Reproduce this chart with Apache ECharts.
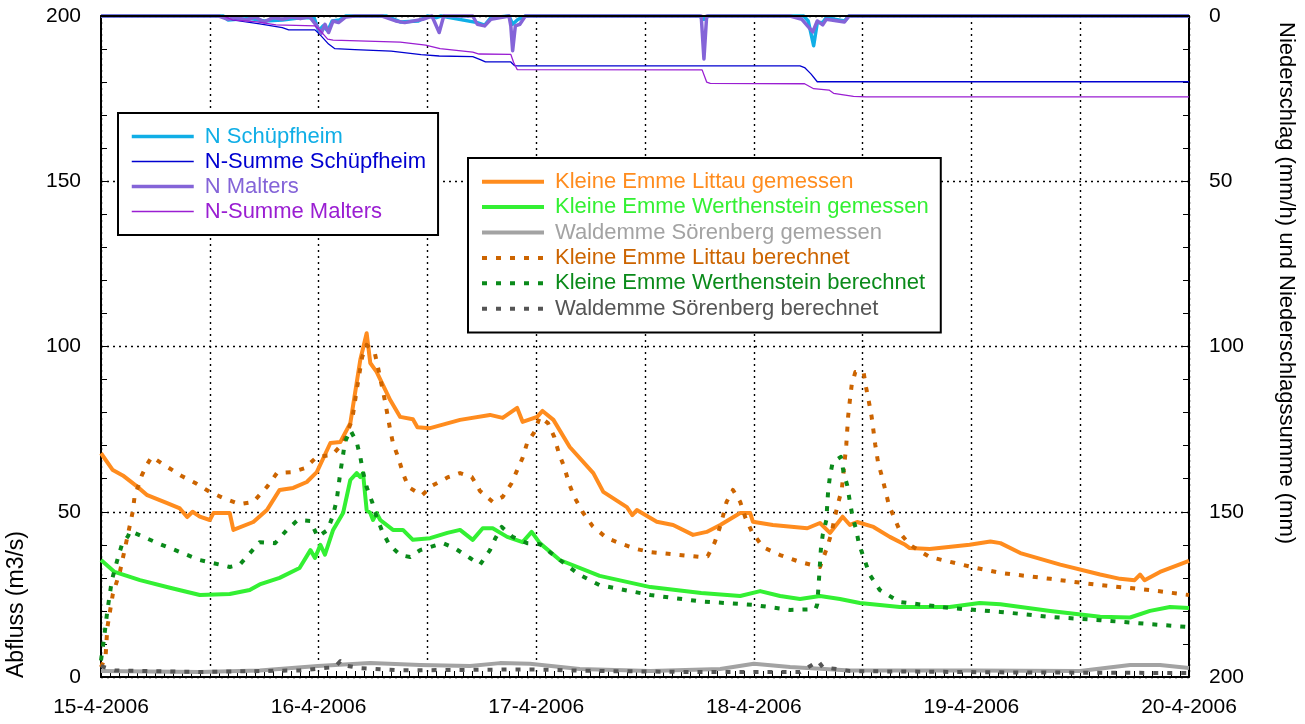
<!DOCTYPE html>
<html><head><meta charset="utf-8">
<script src="https://cdn.jsdelivr.net/npm/echarts@6/dist/echarts.min.js"></script>
<style>html,body{margin:0;padding:0;background:#fff}#c{width:1305px;height:724px}</style>
</head><body><div id="c"></div>
<script>
// x values are hours since 15-4-2006 00:00
const dayLabels = ['15-4-2006','16-4-2006','17-4-2006','18-4-2006','19-4-2006','20-4-2006'];

const littauMeasured = [[0,67.7],[1.3,62.6],[2.4,61],[4.0,57.6],[5.1,55],[7.3,52.6],[8.7,51],[9.5,48.4],[10.1,50],[10.9,48.5],[12.0,47.5],[12.4,49.6],[14.2,49.6],[14.6,44.5],[16.8,46.9],[18.3,50.5],[19.7,56.6],[21.2,57.2],[22.7,59],[23.8,62],[25.3,70.8],[26.4,71.1],[27.5,76.8],[28.6,96],[29.3,104],[29.7,95],[30.4,92.3],[31.9,83.8],[33.0,78.7],[34.4,78],[34.9,75.6],[36.3,75.3],[39.6,77.8],[42.9,79.3],[44.3,78.4],[45.9,81.4],[46.5,77.2],[48.1,78.7],[48.7,80.5],[49.9,77.8],[51.7,69.6],[54.3,61.7],[55.4,56],[58.0,51.4],[58.6,49],[59.1,50.5],[61.3,47],[63.1,46],[65.3,43],[66.8,43.9],[68.3,46],[70.5,49.6],[71.6,49.6],[71.9,47],[74.1,46],[77.9,45],[79.3,46.6],[80.4,43.6],[81.8,48.5],[82.6,46],[83.4,46.9],[85.2,45.4],[87.0,42.4],[88.7,40],[89.2,39],[91.4,38.7],[95.8,40],[98.1,41],[99.2,40.5],[101.4,37.5],[105.8,34],[110.2,31],[112.4,29.7],[114.0,29.3],[114.6,31],[115.1,29.3],[116.8,31.8],[120,35.1]];

const werthensteinMeasured = [[0,35.4],[1.5,31.8],[4.3,29.3],[7.6,27],[10.9,24.8],[14.2,25.1],[16.4,26.3],[17.5,28],[19.7,30],[21.9,33],[23.1,38.4],[23.6,36],[24.2,40],[24.7,37],[25.6,44.5],[26.7,49.6],[27.5,59.6],[28.2,61.7],[28.6,60.5],[28.9,61.7],[29.3,50.5],[29.7,49.6],[30.0,47.5],[30.4,49.6],[30.8,47.5],[32.2,44.5],[33.3,44.5],[34.4,41.5],[36.3,42],[38.2,43.6],[39.6,44.5],[41.0,41.5],[42.1,45],[43.2,45],[44.8,42.4],[46.5,40.8],[47.5,43.9],[48.4,40.5],[50.6,35.4],[55.0,30.6],[60.6,27.2],[66.2,25.4],[70.5,24.5],[72.7,26],[74.9,24.5],[77.1,23.6],[79.3,24.5],[81.5,23.6],[83.7,22.4],[88.1,21.2],[93.6,21.2],[96.9,22.4],[99.2,22],[104.7,20],[110.2,18.2],[113.5,18],[115.7,20],[117.9,21.2],[120,20.9]];

const soerenbergMeasured = [[0,1.8],[10.9,1.5],[17.5,2],[23.9,3.3],[29.7,4.2],[35.2,3.6],[40.7,3.3],[44.0,4.2],[47.3,4],[52.8,2.4],[60.6,1.8],[68.3,2.4],[72.0,4],[76.0,3],[82.6,2],[96.0,2],[108.0,1.8],[113.5,3.6],[116.8,3.6],[120,2.7]];

const littauComputed = [[0,3],[0.5,6],[0.7,15],[1.3,25],[2.1,32],[2.6,38.4],[3.5,50],[3.7,54.5],[4.5,61],[5.1,64.4],[5.6,66.6],[7.3,63.6],[8.9,60.8],[10.4,58.7],[12.0,56],[13.7,53.9],[15.3,52.3],[16.8,53],[18.3,57.5],[19.4,61.7],[21.1,62],[22.5,63.2],[23.8,66.6],[25.5,67.2],[26.7,70.8],[27.7,77.8],[28.2,86.8],[28.8,96.8],[29.3,100.5],[30.2,98],[30.6,93],[31.3,83.8],[31.6,79.3],[31.9,74.7],[32.2,70.8],[32.8,66.3],[33.3,61.7],[33.9,57.5],[35.4,55],[36.6,58],[38.3,60.5],[39.6,61.7],[40.9,60.5],[41.8,56.3],[43.2,53],[44.3,54.5],[45.3,58.7],[45.9,62.6],[46.5,66.3],[47.0,70.8],[47.8,74.1],[48.4,78.7],[49.3,76.8],[50.0,72.6],[50.5,67.7],[51.1,63.5],[51.6,58.7],[52.2,54.5],[53.1,50],[54.2,45.7],[55.8,42],[57.5,40.2],[59.1,38.7],[60.6,37.8],[66.1,36.3],[66.9,36.5],[67.7,40.8],[68.2,44.8],[68.6,48.7],[69.0,53],[69.7,56.6],[70.5,53],[71.1,48],[71.8,43.9],[73.0,39.3],[74.9,36.9],[77.1,34.8],[79.3,33.3],[80.1,39.3],[80.6,43.9],[80.9,48],[81.3,52.6],[81.7,56.6],[81.9,62],[82.2,70.2],[82.4,78.7],[82.6,83.8],[82.8,88.4],[83.2,92.3],[84.1,92.3],[84.4,87.4],[84.7,83.2],[85.0,78.7],[85.4,70.2],[85.7,65],[86.1,61],[86.5,56.6],[86.9,52],[87.6,47.5],[88.3,43],[89.2,40],[91.4,36.3],[96.0,33.3],[99.2,31.5],[104.7,29.7],[110.2,27.8],[115.7,26.3],[120,24.8]];

const werthensteinComputed = [[0,5],[0.3,11],[0.7,20],[1.2,29.3],[1.8,35.4],[2.3,40],[3.0,42.7],[3.2,44.2],[5.0,42],[6.5,40.2],[7.9,38.7],[10.9,35.4],[14.2,33.3],[15.3,34],[17.5,40.8],[19.2,40.5],[20.5,44.5],[21.7,47.5],[23.1,47.2],[23.9,42.4],[25.0,44.5],[25.6,49],[26.0,53.6],[26.4,62],[26.7,67.2],[26.9,71.1],[27.5,74.7],[28.2,71.1],[28.6,66.6],[28.9,62],[29.3,57.5],[29.9,53],[30.4,48.4],[31.0,44.2],[31.8,40],[33.0,36.9],[34.1,36.3],[35.2,38.4],[37.7,40.5],[39.0,39],[40.7,36],[41.8,34],[42.9,38.4],[43.5,42],[44.2,45.4],[45.4,42.4],[47.0,40.5],[48.4,40.2],[50.6,35.4],[52.8,30.9],[55.0,27.8],[60.6,24.8],[66.1,22.9],[72.0,21.8],[76.0,20.3],[78.8,20.5],[79.0,22],[79.2,30],[79.4,38.7],[79.6,43],[80.0,47.5],[80.1,52],[80.2,56.3],[80.4,60.8],[80.7,65],[81.6,66.6],[81.9,62],[82.3,58],[82.6,53],[82.9,48.4],[83.3,44.5],[83.6,40.2],[84.8,30.9],[85.9,26.3],[88.1,22.7],[93.6,20.9],[99.2,19.7],[104.7,18.2],[110.2,17.2],[115.7,16],[120,15.1]];

const soerenbergComputed = [[0,3.3],[1.5,2],[10.9,1.5],[21.9,2],[25.8,3],[26.4,4.8],[26.9,3.5],[28.6,2.7],[33.0,2],[47.3,2.3],[55.0,1.8],[66.1,1.5],[77.1,1.5],[79.1,4.8],[79.6,3],[82.6,1.8],[99.2,1.4],[120,1.2]];

// precipitation (mm/h) and cumulative precipitation (mm), right axis
const rainSchuepfheim = [[0,0],[13.5,0],[14,1.2],[15,1],[16.5,0.8],[18,1.5],[20,1.2],[22,0.5],[23.5,0.5],[24,4.5],[24.5,3],[25,4.5],[25.5,1.5],[26.3,1.2],[27,0],[31.5,0],[33,1.8],[35,1.5],[36,0],[37,0.5],[37.5,0],[41.5,2],[42.3,2.8],[43,0.5],[45,0],[45.4,2.5],[46,1],[46.8,0],[66,0],[66.5,1],[67,0],[77.5,0],[78,1.5],[78.6,9],[79,2],[79.6,2],[80,0.5],[82,1.5],[82.5,0],[120,0]];
const sumSchuepfheim = [[0,0],[13.5,0],[14.5,1.2],[17.5,2.4],[20,3.5],[20.7,4.2],[23.6,4.2],[24.1,5.5],[25.1,8.5],[25.8,9.9],[28,10.2],[32,10.6],[35.3,11.7],[37.3,12.1],[41,12.3],[41.9,13.3],[42.4,13.9],[45.2,13.9],[45.6,15],[46,15.1],[77.1,15.1],[77.6,15.6],[78.3,17.5],[79,19.9],[120,19.9]];
const rainMalters = [[0,0],[13,0],[14,1],[15,0.5],[16,1.2],[17,0.3],[18,1.8],[19,0.5],[20,1],[21,0.3],[22,0.8],[23,0.2],[23.8,3],[24.3,5.2],[24.7,2.5],[25.1,5],[25.6,1.5],[26.2,2],[27,0.3],[28,0],[31,0],[32.5,1.5],[33.5,2],[35.5,1],[36.5,0],[37.3,5],[37.8,0],[41,0],[41.5,2.5],[42.3,3],[43,1],[45,0],[45.2,3],[45.4,10.5],[45.7,3],[46.2,2.5],[46.8,0],[66.2,0],[66.5,13],[66.8,0],[76,0],[77.3,1],[78.5,4.8],[79,1.5],[79.6,2.7],[80,1],[82,1.8],[82.5,0],[120,0]];
const sumMalters = [[0,0],[13.5,0],[14.5,1.2],[17.2,1.8],[19.3,2.7],[23.6,3.0],[24.2,4.5],[25,7.0],[25.6,7.3],[33,7.9],[35.8,8.8],[37.4,9.9],[41,10.9],[41.7,11.5],[45.2,11.6],[45.5,14],[45.9,16.2],[66.3,16.3],[66.8,20.0],[67.2,20.4],[77.6,20.5],[78.6,22.0],[80.3,22.4],[80.8,23.4],[83,24.3],[84.4,24.5],[120,24.5]];

const FONT = 'Liberation Sans, Arial, sans-serif';
const C = {
  littauM:'#ff8c1e', werthM:'#33f033', soerM:'#a3a3a3',
  littauC:'#cc6400', werthC:'#0a8a1a', soerC:'#555555',
  rainS:'#10aee6', sumS:'#0000d0', rainM:'#8464d8', sumM:'#9a1ed2'
};
const DASH = [5, 9];
const GRID = {left:101, right:116, top:16, bottom:47};
const PLOT_W = 1305 - GRID.left - GRID.right;
const PLOT_H = 724 - GRID.top - GRID.bottom;

function line(name, data, color, width, dash, yi, extra) {
  return Object.assign({
    name, type:'line', data, yAxisIndex: yi, xAxisIndex:0,
    symbol:'none', showSymbol:false, animation:false, silent:true,
    lineStyle:{color, width, type: dash || 'solid', cap:'butt', join:'round'},
    itemStyle:{color}
  }, extra || {});
}
function legItem(name, color, width) {
  return {name, textStyle:{color}, itemStyle:{opacity:0}, lineStyle:{width}};
}

const chart = echarts.init(document.getElementById('c'), null, {renderer:'canvas'});
const lbl = {color:'#000', fontSize:21, fontFamily:FONT, margin:20};
// helper axes that only draw small ticks pointing into the plot
const tickOnly = {
  axisLine:{show:false, onZero:false}, axisLabel:{show:false}, splitLine:{show:false},
  axisTick:{show:true, inside:false, length:6, lineStyle:{color:'#000', width:1}}
};
chart.setOption({
  animation:false,
  textStyle:{fontFamily:FONT},
  grid:Object.assign({containLabel:false}, GRID),
  xAxis:[{
    type:'value', min:0, max:120, interval:12, position:'bottom',
    axisLine:{show:true, onZero:false, lineStyle:{color:'#000', width:2}},
    axisTick:{show:false},
    splitLine:{show:true, lineStyle:{color:'#000', width:1.4, type:[2,4]}},
    axisLabel:Object.assign({showMinLabel:true, showMaxLabel:true,
      formatter:function(v){ return (v % 24 === 0) ? dayLabels[v/24] : ''; }}, lbl)
  },{
    type:'value', min:0, max:120, position:'top', z:5,
    axisLine:{show:true, onZero:false, lineStyle:{color:'#000', width:2}},
    axisTick:{show:false}, axisLabel:{show:false}, splitLine:{show:false}
  }, Object.assign({
    type:'value', min:0, max:120, interval:1, position:'top', offset:-PLOT_H
  }, tickOnly)],
  yAxis:[{
    type:'value', min:0, max:200, interval:50, position:'left',
    axisLine:{show:true, onZero:false, lineStyle:{color:'#000', width:2}},
    axisTick:{show:false},
    splitLine:{show:true, lineStyle:{color:'#000', width:1.4, type:[2,4]}},
    axisLabel:lbl
  },{
    type:'value', min:0, max:200, interval:50, position:'right', inverse:true,
    axisLine:{show:true, onZero:false, lineStyle:{color:'#000', width:2}},
    axisTick:{show:false}, splitLine:{show:false},
    axisLabel:lbl
  }, Object.assign({type:'value', min:0, max:200, interval:10, position:'right', offset:-PLOT_W}, tickOnly),
     Object.assign({type:'value', min:0, max:200, interval:10, position:'left', offset:-PLOT_W}, tickOnly)],
  legend:[{
    orient:'vertical', left:118, top:113, padding:[11,12,11,12],
    borderColor:'#000', borderWidth:2, backgroundColor:'#fff',
    itemWidth:62, itemHeight:14, itemGap:0, selectedMode:false,
    textStyle:{fontSize:22, fontFamily:FONT, lineHeight:25, padding:[0,0,0,6]},
    data:[
      legItem('N Schüpfheim', C.rainS, 3.5),
      legItem('N-Summe Schüpfheim', C.sumS, 1.3),
      legItem('N Malters', C.rainM, 3.5),
      legItem('N-Summe Malters', C.sumM, 1.3)
    ]
  },{
    orient:'vertical', left:468, top:158, padding:[11,12,11,12],
    borderColor:'#000', borderWidth:2, backgroundColor:'#fff',
    itemWidth:62, itemHeight:14, itemGap:0, selectedMode:false,
    textStyle:{fontSize:22, fontFamily:FONT, lineHeight:25.4, padding:[0,0,0,6]},
    data:[
      legItem('Kleine Emme Littau gemessen', C.littauM, 4),
      legItem('Kleine Emme Werthenstein gemessen', C.werthM, 4),
      legItem('Waldemme Sörenberg gemessen', C.soerM, 4),
      legItem('Kleine Emme Littau berechnet', C.littauC, 4),
      legItem('Kleine Emme Werthenstein berechnet', C.werthC, 4),
      legItem('Waldemme Sörenberg berechnet', C.soerC, 4)
    ]
  }],
  graphic:[
    {type:'text', x:17, y:678, rotation:Math.PI/2, silent:true,
     style:{text:'Abfluss (m3/s)', fontSize:23, fontFamily:FONT, fill:'#000', align:'left', verticalAlign:'middle', textAlign:'left', textVerticalAlign:'middle'}},
    {type:'text', x:1286, y:22, rotation:-Math.PI/2, silent:true,
     style:{text:'Niederschlag (mm/h) und Niederschlagssumme (mm)', fontSize:22, fontFamily:FONT, fill:'#000', align:'left', verticalAlign:'middle', textAlign:'left', textVerticalAlign:'middle'}}
  ],
  series:[
    line('Kleine Emme Littau gemessen', littauMeasured, C.littauM, 4, null, 0),
    line('Kleine Emme Werthenstein gemessen', werthensteinMeasured, C.werthM, 4, null, 0),
    line('Waldemme Sörenberg gemessen', soerenbergMeasured, C.soerM, 4, null, 0),
    line('Kleine Emme Littau berechnet', littauComputed, C.littauC, 4, DASH, 0),
    line('Kleine Emme Werthenstein berechnet', werthensteinComputed, C.werthC, 4, DASH, 0),
    line('Waldemme Sörenberg berechnet', soerenbergComputed, C.soerC, 4, DASH, 0),
    line('N Schüpfheim', rainSchuepfheim, C.rainS, 3.5, null, 1, {clip:false}),
    line('N-Summe Schüpfheim', sumSchuepfheim, C.sumS, 1.3, null, 1),
    line('N Malters', rainMalters, C.rainM, 3.5, null, 1, {clip:false}),
    line('N-Summe Malters', sumMalters, C.sumM, 1.3, null, 1)
  ]
});
</script></body></html>
